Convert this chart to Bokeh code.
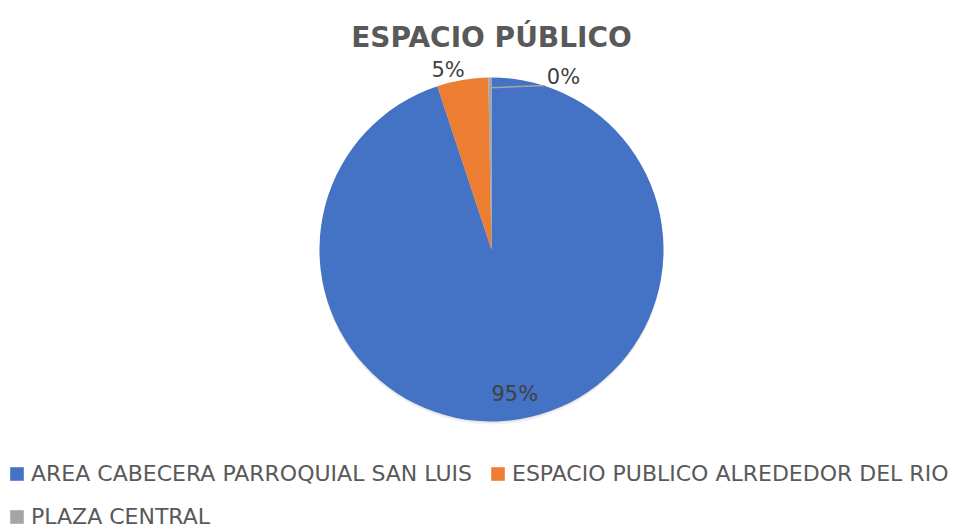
import numpy as np
from bokeh.plotting import figure
from bokeh.models import Range1d, Legend, LegendItem, ColumnDataSource
from bokeh.core.properties import value
from bokeh.embed import file_html
from bokeh.resources import INLINE

# ---- data ----
title_text = "ESPACIO PÚBLICO"
categories = ["AREA CABECERA PARROQUIAL SAN LUIS",
              "ESPACIO PUBLICO ALREDEDOR DEL RIO",
              "PLAZA CENTRAL"]
shares = [94.9, 4.8, 0.3]
colors = ["#4472C4", "#ED7D31", "#A5A5A5"]

FONT = value("DejaVu Sans")
W, H = 973, 529
p = figure(width=W, height=H, x_range=Range1d(0, W), y_range=Range1d(0, H),
           output_backend="svg", toolbar_location=None,
           x_axis_type=None, y_axis_type=None, min_border=0)
p.outline_line_color = None
p.background_fill_color = "white"

cx, cy, r = 491, 280, 172

vals = np.array(shares, dtype=float)
frac = vals / vals.sum()
cum_after = np.cumsum(frac)
cum_before = cum_after - frac
start = np.pi / 2 - cum_after * 2 * np.pi
end = np.pi / 2 - cum_before * 2 * np.pi
mid_clock = (cum_before + frac / 2) * 2 * np.pi  # clockwise from 12 o'clock

src = ColumnDataSource(dict(cat=categories, start=start, end=end, color=colors))

# soft shadow
p.circle(x=[cx], y=[cy - 3], radius=r, fill_color="black", fill_alpha=0.05, line_color=None)
p.circle(x=[cx], y=[cy - 1.5], radius=r, fill_color="black", fill_alpha=0.05, line_color=None)

wr = p.wedge(x=cx, y=cy, radius=r, start_angle="start", end_angle="end",
             fill_color="color", line_color=None, source=src)

# title
p.text(x=[cx], y=[492], text=[title_text], text_font=FONT, text_font_style="bold",
       text_font_size="28px", text_color="#595959", text_align="center",
       text_baseline="alphabetic")

labels = ["%d%%" % round(v) for v in frac * 100]
lab_kw = dict(text_font=FONT, text_font_size="21px", text_color="#404040")

# large slice: inside label
i = 0
p.text(x=[cx + 0.85 * r * np.sin(mid_clock[i])], y=[cy + 0.85 * r * np.cos(mid_clock[i])],
       text=[labels[i]], text_align="center", text_baseline="middle", **lab_kw)
# medium slice: outside label
i = 1
ox = cx + (r - 2) * np.sin(mid_clock[i]) + 2
oy = cy + (r - 2) * np.cos(mid_clock[i])
p.text(x=[ox], y=[oy], text=[labels[i]], text_align="right", text_baseline="bottom", **lab_kw)
# tiny slice: label with leader line
i = 2
ox = cx + (r + 6) * np.sin(mid_clock[i]) + 57
oy = cy + (r + 6) * np.cos(mid_clock[i]) - 17
lx0 = cx + 0.94 * r * np.sin(mid_clock[i])
ly0 = cy + 0.94 * r * np.cos(mid_clock[i])
p.line(x=[lx0, ox - 2], y=[ly0, oy + 3], line_color="#A5A5A5", line_width=1.5)
p.text(x=[ox], y=[oy], text=[labels[i]], text_align="left", text_baseline="bottom", **lab_kw)

items = [LegendItem(label=c, renderers=[wr], index=k) for k, c in enumerate(categories)]
legend = Legend(items=items, location=(8, 0), orientation="horizontal", ncols=2,
                label_text_font="DejaVu Sans", label_text_font_size="22px",
                label_text_color="#595959", glyph_width=17, glyph_height=17,
                label_standoff=6, spacing=17, label_height=26, padding=0, margin=0,
                border_line_color=None, background_fill_alpha=0)
p.add_layout(legend)

open("out.html", "w").write(file_html(p, INLINE))
